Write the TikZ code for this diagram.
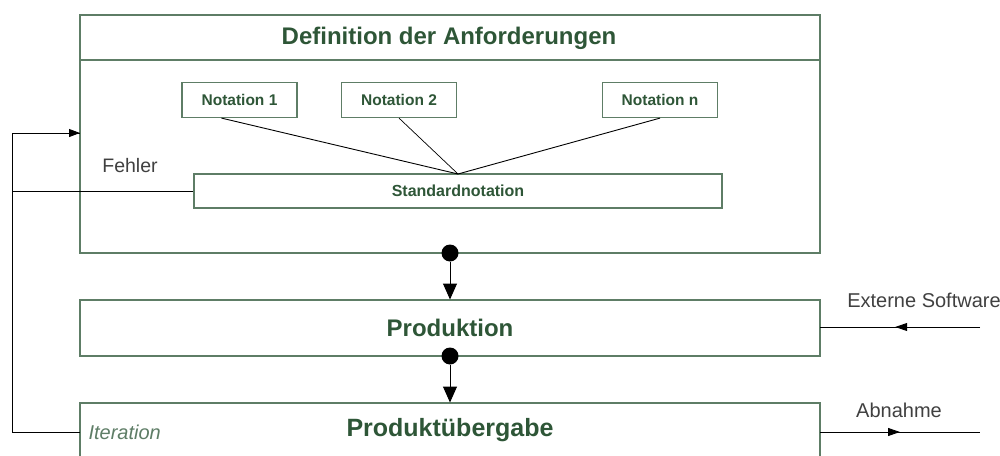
\documentclass[tikz,border=0pt]{standalone}
\usepackage{fontspec}
\setmainfont{Liberation Sans}
\usetikzlibrary{arrows.meta,decorations.markings}
\definecolor{boxline}{HTML}{5E7D66}
\definecolor{boxtext}{HTML}{2E5637}
\tikzset{
  frame/.style={draw=boxline, line width=1.3pt, fill=white},
  notebox/.style={draw=boxline, line width=1.2pt, fill=white, minimum width=115pt, minimum height=35pt,
    font=\fontsize{15.5}{17}\selectfont\bfseries, text=boxtext, inner sep=0pt},
  boxtitle/.style={font=\fontsize{24}{27}\selectfont\bfseries, text=boxtext},
  plain/.style={font=\fontsize{19.5}{22}\selectfont, text=black!75},
  link/.style={draw=black, line width=0.9pt},
  flowtip/.style={-{Triangle[length=16pt,width=14pt]}, draw=black, line width=1pt},
  midtip/.style={postaction={decorate}, decoration={markings,
    mark=at position #1 with {\arrow{Triangle[length=12pt,width=8pt]}}}},
}
\begin{document}
\begin{tikzpicture}[x=1pt,y=-1pt]
\useasboundingbox (0,0) rectangle (1000,455);

% requirement definition block with title bar
\draw[frame] (80,15) rectangle (820,253);
\draw[boxline, line width=1.3pt] (80,60) -- (820,60);
\node[boxtitle] (deftitle) at (449,38) {Definition der Anforderungen};

% notations merged into the standard notation
\node[notebox] (n1) at (239.5,100) {Notation 1};
\node[notebox] (n2) at (399,100) {Notation 2};
\node[notebox] (nn) at (660,100) {Notation n};
\node[notebox, minimum width=528pt, minimum height=34pt, font=\fontsize{16}{18}\selectfont\bfseries] (std) at (458,191) {Standardnotation};
\coordinate (join) at (458,174);
\draw[link] ([xshift=-18pt]n1.south) -- (join);
\draw[link, line width=0.7pt] (n2.south) -- (join);
\draw[link] (nn.south) -- (join);

% production and handover blocks
\draw[frame] (80,300) rectangle (820,356);
\node[boxtitle] (prod) at (450,328) {Produktion};
\draw[frame] (80,403) rectangle (820,470);
\node[boxtitle, font=\fontsize{25}{28}\selectfont\bfseries] (hand) at (450,430) {Produktübergabe};
\node[font=\fontsize{20}{22}\selectfont\itshape, text=boxline, anchor=west] (iter) at (85,432) {Iteration};

% flow between blocks
\node[circle, fill=black, minimum size=17pt, inner sep=0pt] (dot1) at (450,253) {};
\node[circle, fill=black, minimum size=17pt, inner sep=0pt] (dot2) at (450,356) {};
\coordinate (prodtop) at (450,299.5);
\coordinate (handtop) at (450,402.5);
\draw[flowtip] (dot1) -- (prodtop);
\draw[flowtip] (dot2) -- (handtop);

% error feedback loop
\coordinate (loopA) at (12,432);
\coordinate (loopB) at (12,133);
\coordinate (loopC) at (12,191);
\coordinate (iterin) at (80,432);
\coordinate (defin) at (80,133);
\draw[link] (iterin) -- (loopA) -- (loopB) -- (defin);
\draw[link, -{Triangle[length=11pt,width=8pt]}] (loopB) -- (defin);
\draw[link] (std.west) -- (loopC);
\node[plain] (err) at (130,166) {Fehler};

% external inputs and outputs
\coordinate (extin) at (980,327);
\coordinate (prodR) at (820,327);
\draw[link, midtip=0.53] (extin) -- (prodR);
\node[plain, font=\fontsize{20}{22}\selectfont] (ext) at (924,300) {Externe Software};
\coordinate (handR) at (820,432);
\coordinate (accout) at (980,432);
\draw[link, midtip=0.5] (handR) -- (accout);
\node[plain, font=\fontsize{20}{22}\selectfont] (acc) at (899,410) {Abnahme};
\end{tikzpicture}
\end{document}
